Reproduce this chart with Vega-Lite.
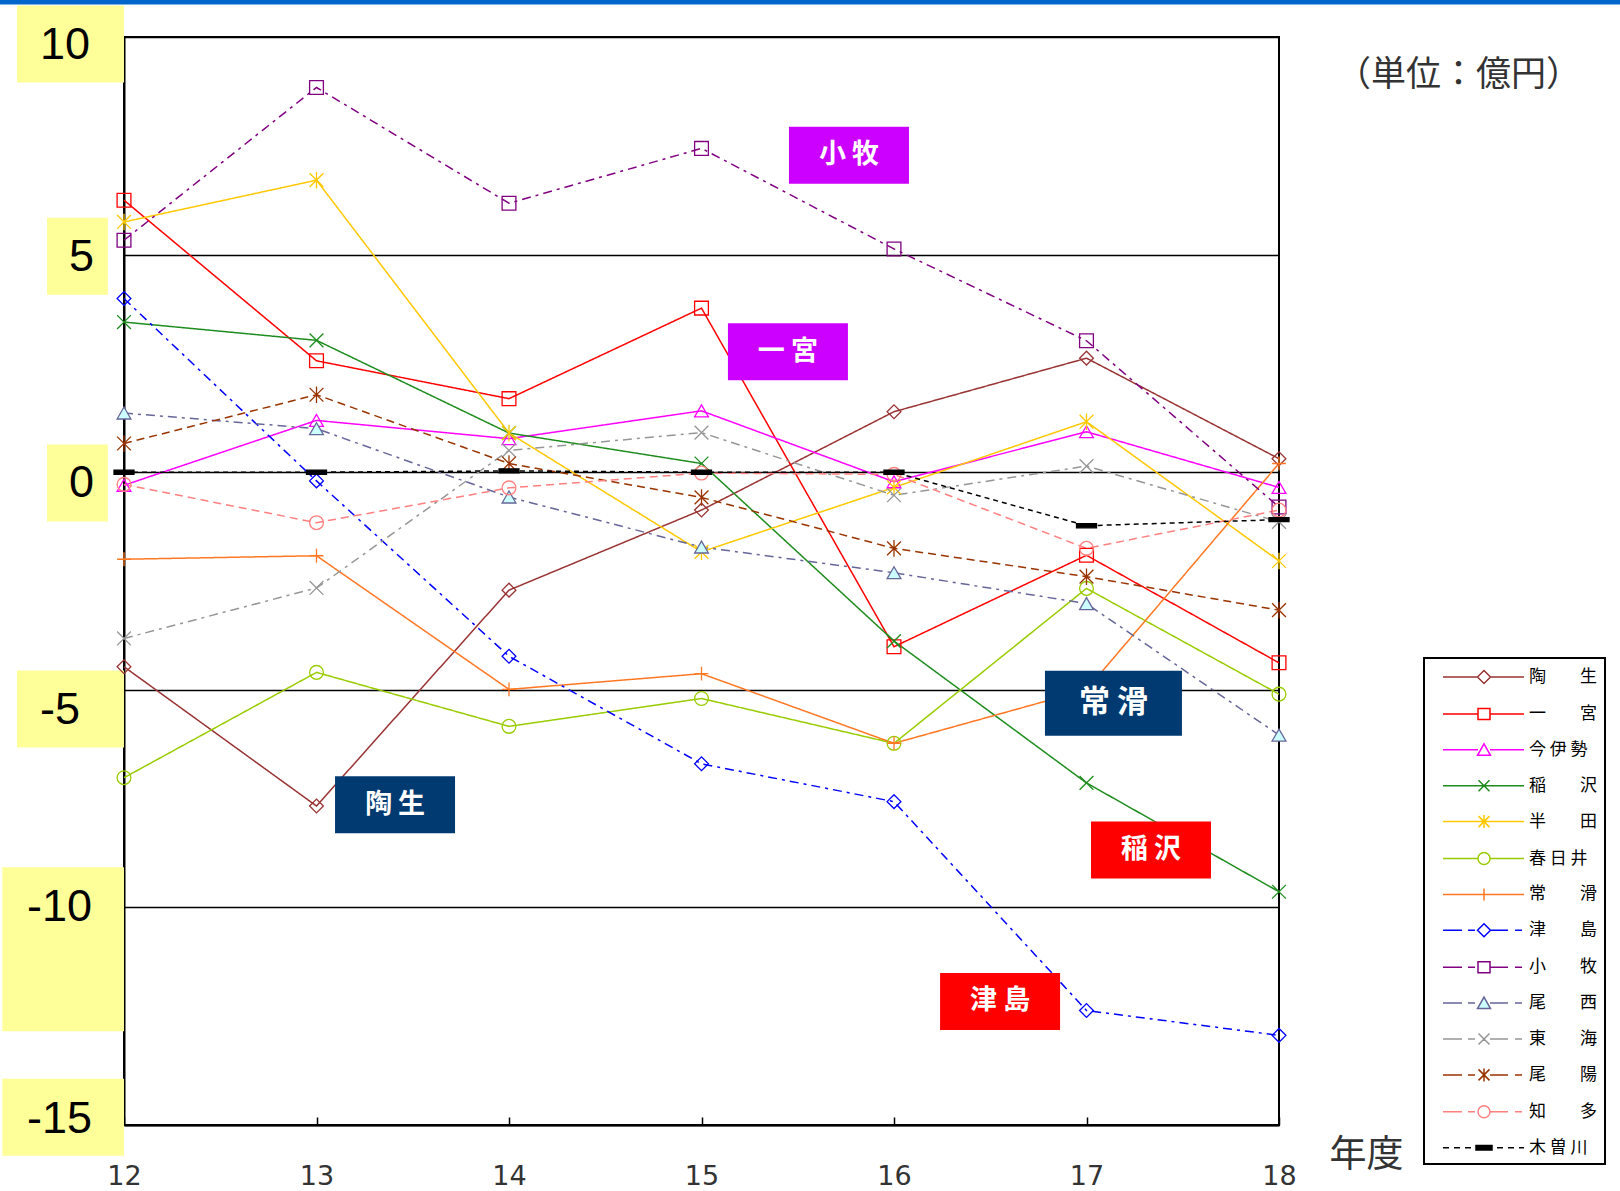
{
  "$schema": "https://vega.github.io/schema/vega-lite/v6.json",
  "autosize": {"type": "none"},
  "width": 1155,
  "height": 1088,
  "padding": {"left": 124, "top": 37, "right": 341, "bottom": 66},
  "background": "#ffffff",
  "config": {"view": {"stroke": "#000000", "strokeWidth": 2}},
  "datasets": {
    "series": [
      {"s": "陶生", "year": 12, "v": -4.47}, {"s": "陶生", "year": 13, "v": -7.67}, {"s": "陶生", "year": 14, "v": -2.71}, {"s": "陶生", "year": 15, "v": -0.87}, {"s": "陶生", "year": 16, "v": 1.39}, {"s": "陶生", "year": 17, "v": 2.62}, {"s": "陶生", "year": 18, "v": 0.31},
      {"s": "一宮", "year": 12, "v": 6.25}, {"s": "一宮", "year": 13, "v": 2.56}, {"s": "一宮", "year": 14, "v": 1.69}, {"s": "一宮", "year": 15, "v": 3.77}, {"s": "一宮", "year": 16, "v": -4.01}, {"s": "一宮", "year": 17, "v": -1.91}, {"s": "一宮", "year": 18, "v": -4.38},
      {"s": "今伊勢", "year": 12, "v": -0.30}, {"s": "今伊勢", "year": 13, "v": 1.19}, {"s": "今伊勢", "year": 14, "v": 0.77}, {"s": "今伊勢", "year": 15, "v": 1.41}, {"s": "今伊勢", "year": 16, "v": -0.22}, {"s": "今伊勢", "year": 17, "v": 0.93}, {"s": "今伊勢", "year": 18, "v": -0.35},
      {"s": "稲沢", "year": 12, "v": 3.45}, {"s": "稲沢", "year": 13, "v": 3.03}, {"s": "稲沢", "year": 14, "v": 0.90}, {"s": "稲沢", "year": 15, "v": 0.20}, {"s": "稲沢", "year": 16, "v": -3.88}, {"s": "稲沢", "year": 17, "v": -7.14}, {"s": "稲沢", "year": 18, "v": -9.64},
      {"s": "半田", "year": 12, "v": 5.75}, {"s": "半田", "year": 13, "v": 6.71}, {"s": "半田", "year": 14, "v": 0.90}, {"s": "半田", "year": 15, "v": -1.83}, {"s": "半田", "year": 16, "v": -0.35}, {"s": "半田", "year": 17, "v": 1.16}, {"s": "半田", "year": 18, "v": -2.04},
      {"s": "春日井", "year": 12, "v": -7.02}, {"s": "春日井", "year": 13, "v": -4.60}, {"s": "春日井", "year": 14, "v": -5.84}, {"s": "春日井", "year": 15, "v": -5.20}, {"s": "春日井", "year": 16, "v": -6.23}, {"s": "春日井", "year": 17, "v": -2.67}, {"s": "春日井", "year": 18, "v": -5.10},
      {"s": "常滑", "year": 12, "v": -2.00}, {"s": "常滑", "year": 13, "v": -1.92}, {"s": "常滑", "year": 14, "v": -4.99}, {"s": "常滑", "year": 15, "v": -4.63}, {"s": "常滑", "year": 16, "v": -6.23}, {"s": "常滑", "year": 17, "v": -5.00}, {"s": "常滑", "year": 18, "v": 0.20},
      {"s": "津島", "year": 12, "v": 3.99}, {"s": "津島", "year": 13, "v": -0.20}, {"s": "津島", "year": 14, "v": -4.23}, {"s": "津島", "year": 15, "v": -6.70}, {"s": "津島", "year": 16, "v": -7.57}, {"s": "津島", "year": 17, "v": -12.37}, {"s": "津島", "year": 18, "v": -12.94},
      {"s": "小牧", "year": 12, "v": 5.33}, {"s": "小牧", "year": 13, "v": 8.84}, {"s": "小牧", "year": 14, "v": 6.18}, {"s": "小牧", "year": 15, "v": 7.44}, {"s": "小牧", "year": 16, "v": 5.13}, {"s": "小牧", "year": 17, "v": 3.02}, {"s": "小牧", "year": 18, "v": -0.80},
      {"s": "尾西", "year": 12, "v": 1.36}, {"s": "尾西", "year": 13, "v": 1.00}, {"s": "尾西", "year": 14, "v": -0.57}, {"s": "尾西", "year": 15, "v": -1.72}, {"s": "尾西", "year": 16, "v": -2.31}, {"s": "尾西", "year": 17, "v": -3.02}, {"s": "尾西", "year": 18, "v": -6.04},
      {"s": "東海", "year": 12, "v": -3.82}, {"s": "東海", "year": 13, "v": -2.66}, {"s": "東海", "year": 14, "v": 0.50}, {"s": "東海", "year": 15, "v": 0.91}, {"s": "東海", "year": 16, "v": -0.53}, {"s": "東海", "year": 17, "v": 0.14}, {"s": "東海", "year": 18, "v": -1.14},
      {"s": "尾陽", "year": 12, "v": 0.66}, {"s": "尾陽", "year": 13, "v": 1.78}, {"s": "尾陽", "year": 14, "v": 0.20}, {"s": "尾陽", "year": 15, "v": -0.58}, {"s": "尾陽", "year": 16, "v": -1.75}, {"s": "尾陽", "year": 17, "v": -2.40}, {"s": "尾陽", "year": 18, "v": -3.17},
      {"s": "知多", "year": 12, "v": -0.28}, {"s": "知多", "year": 13, "v": -1.16}, {"s": "知多", "year": 14, "v": -0.36}, {"s": "知多", "year": 15, "v": -0.02}, {"s": "知多", "year": 16, "v": -0.05}, {"s": "知多", "year": 17, "v": -1.75}, {"s": "知多", "year": 18, "v": -0.87},
      {"s": "木曽川", "year": 12, "v": 0}, {"s": "木曽川", "year": 13, "v": 0}, {"s": "木曽川", "year": 14, "v": 0.03}, {"s": "木曽川", "year": 15, "v": 0}, {"s": "木曽川", "year": 16, "v": 0}, {"s": "木曽川", "year": 17, "v": -1.23}, {"s": "木曽川", "year": 18, "v": -1.09}
    ],
    "ticks": [
      {"tick": 10, "label": "10"}, {"tick": 5, "label": "5"}, {"tick": 0, "label": "0"},
      {"tick": -5, "label": "-5"}, {"tick": -10, "label": "-10"}, {"tick": -15, "label": "-15"}
    ],
    "notes": [
      {"name": "小牧", "text": "小 牧", "year": 15.766, "v": 7.28},
      {"name": "一宮", "text": "一 宮", "year": 15.449, "v": 2.77},
      {"name": "常滑", "text": "常 滑", "year": 17.14, "v": -5.31},
      {"name": "陶生", "text": "陶 生", "year": 13.408, "v": -7.64},
      {"name": "稲沢", "text": "稲 沢", "year": 17.335, "v": -8.68},
      {"name": "津島", "text": "津 島", "year": 16.551, "v": -12.16}
    ]
  },
  "layer": [
    {
      "data": {"values": [{"band": "top"}]},
      "mark": {"type": "rect", "color": "#0066CC"},
      "encoding": {
        "x": {"datum": 11.3, "type": "quantitative", "scale": {"domain": [12, 18], "nice": false, "zero": false}},
        "x2": {"datum": 19.9},
        "y": {"datum": 10.86, "type": "quantitative", "scale": {"domain": [-15, 10], "nice": false, "zero": false}},
        "y2": {"datum": 10.745}
      }
    },
    {
      "data": {"name": "ticks"},
      "mark": {"type": "point", "filled": true, "opacity": 1, "strokeWidth": 0, "color": "#FFFF99", "size": 23716},
      "encoding": {
        "x": {"datum": 12, "type": "quantitative", "scale": {"domain": [12, 18], "nice": false, "zero": false}},
        "y": {"field": "tick", "type": "quantitative", "scale": {"domain": [-15, 10], "nice": false, "zero": false}},
        "shape": {
          "condition": [
            {"test": "datum.tick == 10", "value": "M-1.39,-0.41H0V0.59H-1.39Z"},
            {"test": "datum.tick == 5", "value": "M-1,-0.48H-0.21V0.52H-1Z"},
            {"test": "datum.tick == 0", "value": "M-1,-0.36H-0.21V0.64H-1Z"},
            {"test": "datum.tick == -5", "value": "M-1.39,-0.25H0V0.75H-1.39Z"},
            {"test": "datum.tick == -10", "value": "M-1.58,-0.52H0V1.61H-1.58Z"}
          ],
          "value": "M-1.58,-0.6H0V0.4H-1.58Z"
        }
      }
    },
    {
      "data": {"name": "series"},
      "mark": {"type": "line", "strokeWidth": 1.5},
      "encoding": {
        "x": {"field": "year", "type": "quantitative", "scale": {"domain": [12, 18], "nice": false, "zero": false},
          "axis": {"values": [12, 13, 14, 15, 16, 17, 18], "format": "d", "grid": false, "labelFlush": false,
            "labelFont": "DejaVu Sans", "labelFontSize": 27, "labelColor": "#333333", "labelBaseline": "middle", "labelPadding": 59,
            "ticks": true, "tickSize": -8, "tickColor": "#000000", "tickWidth": 1.5,
            "domainColor": "#000000", "domainWidth": 2,
            "title": "年度", "titleFont": "Noto Sans CJK JP", "titleFontSize": 37, "titleFontWeight": "normal", "titleColor": "#333333",
            "titleX": 1242, "titleY": 30, "titleAlign": "center", "titleBaseline": "middle"}},
        "y": {"field": "v", "type": "quantitative", "scale": {"domain": [-15, 10], "nice": false, "zero": false},
          "axis": {"values": [-15, -10, -5, 0, 5, 10], "labels": false, "ticks": false, "title": null,
            "grid": true, "gridColor": "#000000", "gridWidth": 1.5, "gridOpacity": 1,
            "domainColor": "#000000", "domainWidth": 2}},
        "color": {"field": "s", "type": "nominal",
          "scale": {"domain": ["陶生", "一宮", "今伊勢", "稲沢", "半田", "春日井", "常滑", "津島", "小牧", "尾西", "東海", "尾陽", "知多", "木曽川"],
            "range": ["#993333", "#FF0000", "#FF00FF", "#1E8C1E", "#FFC800", "#99CC00", "#FF7722", "#0000FF", "#800080", "#666699", "#969696", "#993300", "#FF8080", "#000000"]},
          "legend": {"orient": "none", "legendX": 1300, "legendY": 621, "title": null, "padding": 8,
            "strokeColor": "#000000", "fillColor": "#FFFFFF", "rowPadding": 15.9, "symbolSize": 400, "labelOffset": 75,
            "labelFont": "Noto Sans CJK JP", "labelFontSize": 17, "labelColor": "#000000", "labelLimit": 300,
            "labelExpr": "length(datum.label) == 3 ? (substring(datum.label,0,1) + ' ' + substring(datum.label,1,2) + ' ' + substring(datum.label,2,3) + ' ') : (substring(datum.label,0,1) + '　　' + substring(datum.label,1,2) + ' ')",
            "encode": {
              "symbols": {
                "update": {
                  "shape": {"signal": "{'陶生':'M0,0H3.5M4.7,0H8.1M4.1,-0.65L4.75,0L4.1,0.65L3.45,0Z','一宮':'M0,0H3.5M4.7,0H8.1M3.5,-0.55H4.7V0.55H3.5Z','今伊勢':'M0,0H3.5M4.7,0H8.1M4.1,-0.6L4.75,0.55H3.45Z','稲沢':'M0,0H8.1M3.55,-0.55L4.65,0.55M3.55,0.55L4.65,-0.55','半田':'M0,0H8.1M3.55,-0.55L4.65,0.55M3.55,0.55L4.65,-0.55M4.1,-0.65V0.65','春日井':'M0,0H3.5M4.7,0H8.1M3.5,0A0.6,0.6,0,1,1,4.7,0A0.6,0.6,0,1,1,3.5,0Z','常滑':'M0,0H8.1M4.1,-0.6V0.6','津島':'M0,0H1.9M2.5,0H3.2M4.7,0H6.5M7.2,0H7.9M4.1,-0.65L4.75,0L4.1,0.65L3.45,0Z','小牧':'M0,0H1.9M2.5,0H3.2M4.7,0H6.5M7.2,0H7.9M3.5,-0.55H4.7V0.55H3.5Z','尾西':'M0,0H1.9M2.5,0H3.2M4.7,0H6.5M7.2,0H7.9M4.1,-0.6L4.75,0.55H3.45Z','東海':'M0,0H1.9M2.5,0H3.2M4.7,0H6.5M7.2,0H7.9M3.55,-0.55L4.65,0.55M3.55,0.55L4.65,-0.55','尾陽':'M0,0H1.9M2.5,0H3.2M4.7,0H6.5M7.2,0H7.9M3.55,-0.55L4.65,0.55M3.55,0.55L4.65,-0.55M4.1,-0.65V0.65','知多':'M0,0H1.9M2.5,0H3.2M4.7,0H6.5M7.2,0H7.9M3.5,0A0.6,0.6,0,1,1,4.7,0A0.6,0.6,0,1,1,3.5,0Z','木曽川':'M0,0H0.6M1.1,0H1.7M2.2,0H2.8M3.3,-0.22H4.9V0.22H3.3ZM5.4,0H6M6.5,0H7.1M7.6,0H8.1'}[datum.value]"},
                  "stroke": {"scale": "color", "field": "value"},
                  "fill": {"signal": "datum.value === '尾西' ? '#CCFFFF' : (datum.value === '木曽川' ? '#000000' : 'transparent')"},
                  "strokeWidth": {"value": 1.5},
                  "strokeDash": {"value": []},
                  "size": {"value": 400},
                  "opacity": {"value": 1}
                }
              },
              "legend": {"update": {"strokeWidth": {"value": 2}}}
            }}},
        "strokeDash": {"condition": [
            {"test": "datum.s === '木曽川'", "value": [5, 4]},
            {"test": "indexof(['津島','小牧','尾西','東海'], datum.s) >= 0", "value": [9, 5, 3, 5]},
            {"test": "datum.s === '尾陽' || datum.s === '知多'", "value": [8, 5]}
          ], "value": [1, 0]}
      }
    },
    {
      "data": {"name": "series"},
      "mark": {"type": "point", "filled": false, "strokeWidth": 1.3, "opacity": 1, "size": 190},
      "encoding": {
        "x": {"field": "year", "type": "quantitative", "scale": {"domain": [12, 18], "nice": false, "zero": false}},
        "y": {"field": "v", "type": "quantitative", "scale": {"domain": [-15, 10], "nice": false, "zero": false}},
        "color": {"field": "s", "type": "nominal",
          "scale": {"domain": ["陶生", "一宮", "今伊勢", "稲沢", "半田", "春日井", "常滑", "津島", "小牧", "尾西", "東海", "尾陽", "知多", "木曽川"],
            "range": ["#993333", "#FF0000", "#FF00FF", "#1E8C1E", "#FFC800", "#99CC00", "#FF7722", "#0000FF", "#800080", "#666699", "#969696", "#993300", "#FF8080", "#000000"]},
          "legend": null},
        "shape": {"condition": [
            {"test": "datum.s === '陶生' || datum.s === '津島'", "value": "diamond"},
            {"test": "datum.s === '一宮' || datum.s === '小牧'", "value": "square"},
            {"test": "datum.s === '今伊勢' || datum.s === '尾西'", "value": "triangle-up"},
            {"test": "datum.s === '稲沢' || datum.s === '東海'", "value": "M-1,-1L1,1M-1,1L1,-1"},
            {"test": "datum.s === '半田' || datum.s === '尾陽'", "value": "M-1,-1L1,1M-1,1L1,-1M0,-1.2V1.2"},
            {"test": "datum.s === '春日井' || datum.s === '知多'", "value": "circle"},
            {"test": "datum.s === '常滑'", "value": "M-1,0H1M0,-1V1"}
          ], "value": "M-1.45,-0.3H1.45V0.3H-1.45Z"},
        "fill": {"condition": [
            {"test": "datum.s === '尾西'", "value": "#CCFFFF"},
            {"test": "datum.s === '木曽川'", "value": "#000000"}
          ], "value": "transparent"}
      }
    },
    {
      "data": {"name": "notes"},
      "mark": {"type": "point", "filled": true, "opacity": 1, "strokeWidth": 0, "shape": "M-1,-0.475H1V0.475H-1Z"},
      "encoding": {
        "x": {"field": "year", "type": "quantitative", "scale": {"domain": [12, 18], "nice": false, "zero": false}},
        "y": {"field": "v", "type": "quantitative", "scale": {"domain": [-15, 10], "nice": false, "zero": false}},
        "fill": {"condition": [
            {"test": "datum.name === '小牧' || datum.name === '一宮'", "value": "#CC00FF"},
            {"test": "datum.name === '常滑' || datum.name === '陶生'", "value": "#003A70"}
          ], "value": "#FF0000"},
        "size": {"condition": {"test": "datum.name === '常滑'", "value": 18769}, "value": 14400}
      }
    },
    {
      "data": {"name": "notes"},
      "mark": {"type": "text", "font": "Noto Sans CJK JP", "fontWeight": "bold", "color": "#FFFFFF", "align": "center", "baseline": "middle"},
      "encoding": {
        "x": {"field": "year", "type": "quantitative", "scale": {"domain": [12, 18], "nice": false, "zero": false}},
        "y": {"field": "v", "type": "quantitative", "scale": {"domain": [-15, 10], "nice": false, "zero": false}},
        "text": {"field": "text"},
        "size": {"condition": {"test": "datum.name === '常滑'", "value": 31}, "value": 27}
      }
    },
    {
      "data": {"name": "ticks"},
      "mark": {"type": "text", "font": "Liberation Sans", "fontSize": 45, "color": "#000000", "align": "right", "baseline": "middle",
        "dx": {"expr": "datum.tick == 10 ? -34 : datum.tick == -5 ? -44 : (datum.tick == 5 || datum.tick == 0) ? -30 : -32"},
        "dy": {"expr": "datum.tick == 10 ? 8 : datum.tick == 5 ? 2.5 : datum.tick == 0 ? 11 : datum.tick == -5 ? 20.5 : datum.tick == -10 ? 0 : -6.5"}},
      "encoding": {
        "x": {"datum": 12, "type": "quantitative", "scale": {"domain": [12, 18], "nice": false, "zero": false}},
        "y": {"field": "tick", "type": "quantitative", "scale": {"domain": [-15, 10], "nice": false, "zero": false}},
        "text": {"field": "label"}
      }
    },
    {
      "data": {"values": [{"t": "（単位：億円）"}]},
      "mark": {"type": "text", "font": "Noto Sans CJK JP", "fontSize": 35, "color": "#333333", "align": "right", "baseline": "middle", "dx": 302, "dy": 38},
      "encoding": {
        "x": {"datum": 18, "type": "quantitative", "scale": {"domain": [12, 18], "nice": false, "zero": false}},
        "y": {"datum": 10, "type": "quantitative", "scale": {"domain": [-15, 10], "nice": false, "zero": false}},
        "text": {"field": "t"}
      }
    }
  ]
}
